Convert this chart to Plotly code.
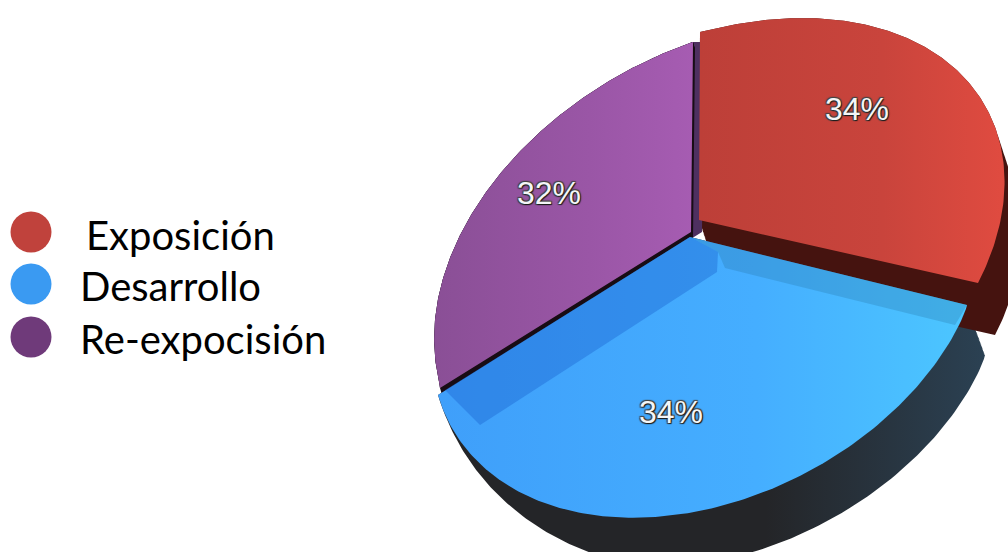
import numpy as np
import plotly.graph_objects as go

labels = ["Exposición", "Desarrollo", "Re-expocisión"]
values = [34, 34, 32]
face_left = ["#bd3f38", "#3f9ffa", "#8a4f96"]
face_mid = ["#c9443c", "#45aeff", "#9a56a6"]
face_right = ["#e04b40", "#4cc6ff", "#a65cb2"]
legend_colors = ["#c0423c", "#3a9af2", "#6f3a7a"]

W, H = 1008, 552

edges = np.concatenate([[0], np.cumsum(values)]) * 360.0 / sum(values)
spans = list(zip(edges[:-1], edges[1:]))


def rim(deg):
    return np.sin(np.radians(deg)), np.cos(np.radians(deg))


# perspective of each slice: where the disc centre and three rim points land on the page
anchor_src = [(0.0, 0.0), rim(edges[0]), rim(edges[1]), rim(edges[2])]
anchors = [
    [(699, 220), (700, 32), (978, 283), (447, 378)],
    [(690, 237), (691, 49), (967, 305), (438, 395)],
    [(691, 232), (693, 42), (969, 296), (440, 388)],
]
bulges = [-0.03, 0.04, -0.03]


def homography(src, dst):
    A, b = [], []
    for (u, v), (x, y) in zip(src, dst):
        A.append([u, v, 1, 0, 0, 0, -u * x, -v * x]); b.append(x)
        A.append([0, 0, 0, u, v, 1, -u * y, -v * y]); b.append(y)
    return np.append(np.linalg.solve(np.array(A), np.array(b)), 1.0).reshape(3, 3)


def wedge(i, dx=0.0, dy=0.0, taper=0.0):
    start, stop = spans[i]
    M = homography(anchor_src, anchors[i])
    deg = np.linspace(start, stop, 160)
    t = np.radians(deg)
    f = (deg - start) / (stop - start)
    r = 1 + bulges[i] * np.sin(np.pi * f ** 0.75)
    u = np.concatenate([[0.0], r * np.sin(t), [0.0]])
    v = np.concatenate([[0.0], r * np.cos(t), [0.0]])
    p = M @ np.vstack([u, v, np.ones_like(u)])
    w = np.ones_like(deg) if taper == 0 else np.clip((stop - deg) / taper, 0, 1)
    w = np.concatenate([[0.0], w, [0.0]]) if taper else np.ones_like(u)
    return p[0] / p[2] + dx * w, p[1] / p[2] + dy * w


def extrusion(i, off, taper=0.0, steps=40):
    xs, ys = [], []
    for k in np.linspace(0, 1, steps):
        x, y = wedge(i, off[0] * k, off[1] * k, taper)
        xs += list(x) + [None]
        ys += list(y) + [None]
    return xs, ys


fig = go.Figure()


def solid(xs, ys, color, color2=None):
    kw = dict(fillcolor=color) if color2 is None else dict(
        fillgradient=dict(type="horizontal", colorscale=[[0, color], [0.6, color], [1, color2]]))
    fig.add_trace(go.Scatter(x=xs, y=ys, mode="lines", fill="toself", line=dict(width=0),
                             hoverinfo="skip", showlegend=False, **kw))


# sides of the slices, back to front
xs, ys = extrusion(1, (18, 50), taper=55); solid(xs, ys, "#242528", "#2b4153")
xs, ys = extrusion(0, (17, 52)); solid(xs, ys, "#45130f")
xs, ys = extrusion(2, (11, 0)); solid(xs, ys, "#4e3060")
xs, ys = extrusion(2, (2, 7)); solid(xs, ys, "#170c14")

# top faces
for i in [2, 0, 1]:
    x, y = wedge(i)
    fig.add_trace(go.Scatter(x=x, y=y, mode="lines", name=labels[i], line=dict(width=0), fill="toself",
                             fillgradient=dict(type="horizontal",
                                               colorscale=[[0, face_left[i]], [0.6, face_mid[i]], [1, face_right[i]]]),
                             hoverinfo="name", showlegend=False))

# legend
leg_x = [31, 31, 31]
leg_y = [232, 284, 337]
txt_x = [84, 78, 78]
txt_y = [235, 286, 339]
fig.add_trace(go.Scatter(x=leg_x, y=leg_y, mode="markers", showlegend=False, hoverinfo="skip",
                         marker=dict(size=41, color=legend_colors, line=dict(width=0))))
for t, x, y in zip(labels, txt_x, txt_y):
    fig.add_annotation(x=x, y=y, xref="x", yref="y", text=t, showarrow=False, xanchor="left",
                       yanchor="middle", font=dict(family="Lato", size=40, color="#000000"))

# value labels
pct_x = [857, 671, 549]
pct_y = [109, 412, 193]
total = sum(values)
for v, x, y in zip(values, pct_x, pct_y):
    fig.add_annotation(x=x, y=y, xref="x", yref="y", text=f"{round(100 * v / total)}%", showarrow=False,
                       font=dict(family="Liberation Sans", size=32, color="#f4f6f8",
                                 shadow="1px 1px 1px #1a1a1a, -1px -1px 1px #444444, 1px -1px 1px #444444, -1px 1px 1px #444444"))

# darker bands on the blue face
fig.add_shape(type="path", path="M 690 237 L 967 305 L 955 325 L 725 268 L 718 252 Z",
              fillcolor="rgba(40,120,170,0.30)", line=dict(width=0), layer="above")
fig.add_shape(type="path", path="M 690 237 L 718 252 L 717 272 L 480 425 L 445 390 Z",
              fillcolor="rgba(20,90,200,0.35)", line=dict(width=0), layer="above")

fig.update_layout(width=W, height=H, margin=dict(l=0, r=0, t=0, b=0),
                  paper_bgcolor="white", plot_bgcolor="rgba(0,0,0,0)", showlegend=False,
                  xaxis=dict(range=[0, W], visible=False, domain=[0, 1]),
                  yaxis=dict(range=[H, 0], visible=False, domain=[0, 1]))
fig.write_html("out.html", config=dict(displayModeBar=False), post_script="document.body.style.margin='0';")
